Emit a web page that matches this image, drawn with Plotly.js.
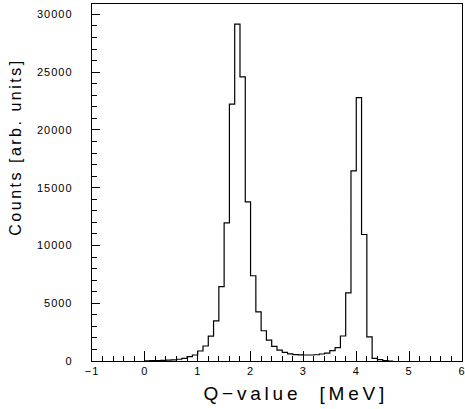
<!DOCTYPE html>
<html>
<head>
<meta charset="utf-8">
<script src="https://cdn.plot.ly/plotly-3.0.1.min.js"></script>
<style>
  html, body { margin: 0; padding: 0; background: #fff; }
  #chart { width: 465px; height: 409px; }
  g.annotation[data-index="0"] .annotation-text { letter-spacing: 3.8px; }
  g.annotation[data-index="1"] .annotation-text { letter-spacing: 2.5px; }
  .xtick text, .ytick text { letter-spacing: 1px; }
</style>
</head>
<body>
<div id="chart"></div>
<script>
// Lower bin edges (MeV) of the non-empty region, bin width 0.1 MeV
var binLowEdges = [0.0, 0.1, 0.2, 0.3, 0.4, 0.5, 0.6, 0.7, 0.8, 0.9,
                   1.0, 1.1, 1.2, 1.3, 1.4, 1.5, 1.6, 1.7, 1.8, 1.9,
                   2.0, 2.1, 2.2, 2.3, 2.4, 2.5, 2.6, 2.7, 2.8, 2.9,
                   3.0, 3.1, 3.2, 3.3, 3.4, 3.5, 3.6, 3.7, 3.8, 3.9,
                   4.0, 4.1, 4.2, 4.3, 4.4, 4.5, 4.6];
var binCounts = [20, 30, 45, 60, 80, 105, 150, 230, 380, 520,
                 865, 1300, 2150, 3480, 6430, 11960, 22230, 29150, 24590, 13780,
                 7380, 4260, 2620, 1800, 1260, 940, 755, 615, 545, 525,
                 520, 520, 540, 606, 690, 895, 1150, 2165, 5900, 16450,
                 22800, 10950, 2080, 230, 115, 40, 0];
var binWidth = 0.1;
var xTickVals = [-1, 0, 1, 2, 3, 4, 5, 6];
var yTickVals = [0, 5000, 10000, 15000, 20000, 25000, 30000];
var xTitle = 'Q\u2212value  [MeV]';
var yTitle = 'Counts [arb. units]';

// step outline: each bin's low edge + final high edge
var xs = [binLowEdges[0]];
var ys = [0];
for (var i = 0; i < binLowEdges.length; i++) {
  xs.push(binLowEdges[i]);
  ys.push(binCounts[i]);
}
xs.push(binLowEdges[binLowEdges.length - 1] + binWidth);
ys.push(0);

var trace = {
  x: xs, y: ys, type: 'scatter', mode: 'lines',
  line: { shape: 'hv', color: '#000', width: 1.2 },
  hoverinfo: 'skip'
};

var fontTick = { family: 'Liberation Sans, Arial, sans-serif', size: 11, color: '#000' };
var fontXTitle = { family: 'Liberation Sans, Arial, sans-serif', size: 19, color: '#000' };
var fontYTitle = { family: 'Liberation Sans, Arial, sans-serif', size: 16, color: '#000' };

var layout = {
  width: 465, height: 409,
  margin: { l: 92, r: 3, t: 4, b: 48 },
  paper_bgcolor: '#fff', plot_bgcolor: '#fff',
  showlegend: false,
  xaxis: {
    range: [-1, 6.0005], showgrid: false, zeroline: false,
    showline: true, linecolor: '#000', linewidth: 1.3, mirror: true,
    ticks: 'inside', ticklen: 10, tickwidth: 1, tickcolor: '#000',
    tickvals: xTickVals, ticktext: xTickVals.map(function(v){ return v < 0 ? '\u2212' + Math.abs(v) : String(v); }),
    tickfont: fontTick, ticklabelstandoff: -1, ticklabeloverflow: 'allow',
    minor: { dtick: 0.2, ticks: 'inside', ticklen: 5, tickcolor: '#000', tickwidth: 1 }
  },
  yaxis: {
    range: [0, 30900], showgrid: false, zeroline: false,
    showline: true, linecolor: '#000', linewidth: 1.3, mirror: true,
    ticks: 'inside', ticklen: 8, tickwidth: 1, tickcolor: '#000',
    tickvals: yTickVals, ticktext: yTickVals.map(String),
    tickfont: fontTick, ticklabelstandoff: 16,
    minor: { dtick: 1000, ticks: 'inside', ticklen: 5, tickcolor: '#000', tickwidth: 1 }
  },
  annotations: [
    { text: xTitle, xref: 'paper', yref: 'paper', x: 0.551, y: -0.09,
      xanchor: 'center', yanchor: 'middle', showarrow: false, font: fontXTitle },
    { text: yTitle, xref: 'paper', yref: 'paper', x: -0.205, y: 0.6,
      xanchor: 'center', yanchor: 'middle', showarrow: false, textangle: -90, font: fontYTitle }
  ]
};

Plotly.newPlot('chart', [trace], layout, { staticPlot: true, displayModeBar: false });
</script>
</body>
</html>
